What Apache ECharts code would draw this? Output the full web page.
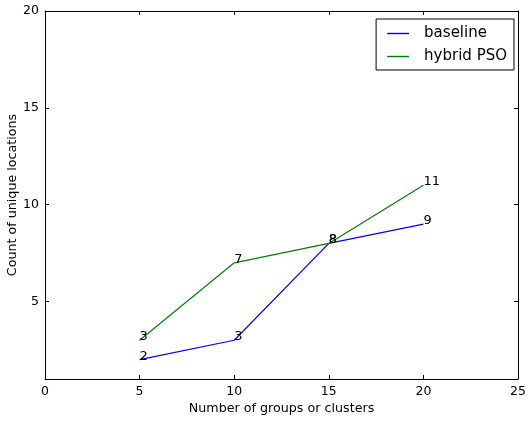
<!DOCTYPE html>
<html><head><meta charset="utf-8">
<script src="https://cdn.jsdelivr.net/npm/echarts@6/dist/echarts.min.js"></script>
<style>html,body{margin:0;padding:0;background:#fff}#c{width:527px;height:421px}</style>
</head><body><div id="c"></div>
<script>
const xValues = [5, 10, 15, 20];
const baseline = [2, 3, 8, 9];
const hybridPSO = [3, 7, 8, 11];
const xTicks = [0, 5, 10, 15, 20, 25];
const yTicks = [5, 10, 15, 20];
const seriesNames = ['baseline', 'hybrid PSO'];
const seriesColors = ['#0000ff', '#008000'];

const font = 'DejaVu Sans';
const chart = echarts.init(document.getElementById('c'));
function pairs(vals){ return xValues.map((x,i)=>[x, vals[i]]); }
const lbl = {show:true, position:[0,3], align:'left', verticalAlign:'bottom', distance:0,
  color:'#000', fontFamily:font, fontSize:13, formatter:p=>String(p.value[1])};
const axisCommon = {
  axisLine:{show:true, onZero:false, lineStyle:{color:'#000', width:1}},
  axisTick:{show:true, inside:true, length:4, lineStyle:{color:'#000'}},
  splitLine:{show:false}
};
chart.setOption({
  animation:false,
  grid:{left:45, right:9, top:11, bottom:42, containLabel:false, outerBoundsMode:'none'},
  legend:{
    data:seriesNames.map((n,i)=>({name:n, itemStyle:{color:seriesColors[i], opacity:1}})),
    orient:'vertical', right:13, top:19,
    borderColor:'#000', borderWidth:1, padding:[6,7,5,11], itemGap:6,
    icon:'rect', itemWidth:22, itemHeight:1.4,
    textStyle:{fontFamily:font, fontSize:15, color:'#000', padding:[0,0,0,10], lineHeight:17}
  },
  xAxis:[
    Object.assign({type:'value', min:0, max:25, interval:5, position:'bottom',
      name:'Number of groups or clusters', nameLocation:'middle', nameGap:23, nameMoveOverlap:false,
      nameTextStyle:{fontFamily:font, fontSize:12.7, color:'#000'},
      axisLabel:{color:'#000', fontFamily:font, fontSize:12.5, margin:6}}, axisCommon),
    Object.assign({type:'value', min:0, max:25, interval:5, position:'top',
      axisLabel:{show:false}}, axisCommon)
  ],
  yAxis:[
    Object.assign({type:'value', min:1, max:20, position:'left',
      name:'Count of unique locations', nameLocation:'middle', nameGap:26, nameMoveOverlap:false,
      nameTextStyle:{fontFamily:font, fontSize:12.7, color:'#000'},
      axisLabel:{color:'#000', fontFamily:font, fontSize:12.5, margin:6, customValues:yTicks}},
      axisCommon, {axisTick:{show:true, inside:true, length:4, lineStyle:{color:'#000'}, customValues:yTicks}}),
    Object.assign({type:'value', min:1, max:20, position:'right',
      axisLabel:{show:false}},
      axisCommon, {axisTick:{show:true, inside:true, length:4, lineStyle:{color:'#000'}, customValues:yTicks}})
  ],
  series:[
    {name:seriesNames[0], type:'line', data:pairs(baseline), color:seriesColors[0],
     lineStyle:{width:1.2, color:seriesColors[0]}, symbol:'circle', symbolSize:0.01,
     itemStyle:{color:seriesColors[0]}, label:lbl},
    {name:seriesNames[1], type:'line', data:pairs(hybridPSO), color:seriesColors[1],
     lineStyle:{width:1.2, color:seriesColors[1]}, symbol:'circle', symbolSize:0.01,
     itemStyle:{color:seriesColors[1]}, label:lbl}
  ]
});
</script></body></html>
